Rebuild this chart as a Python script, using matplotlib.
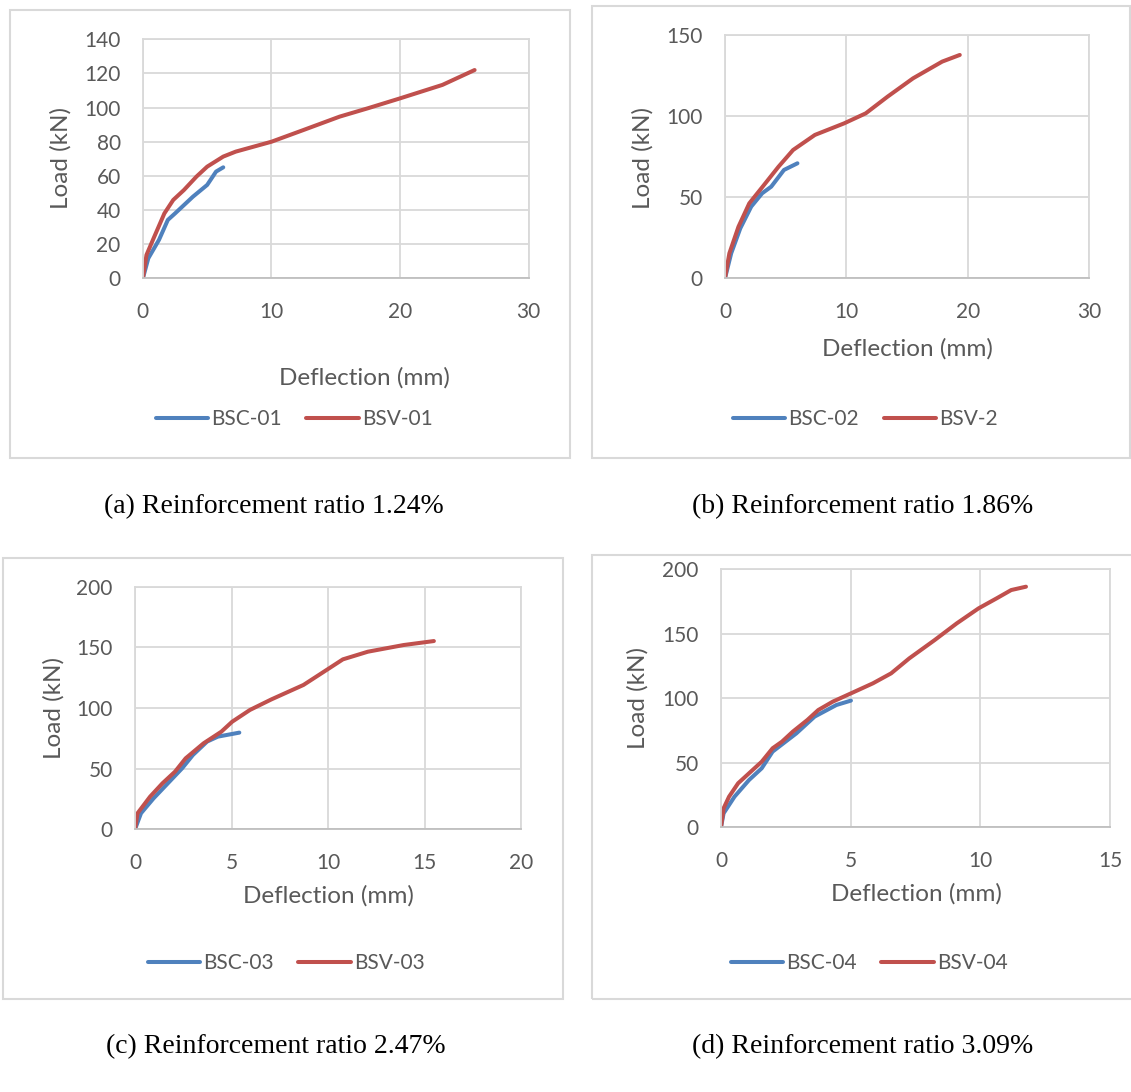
import numpy as np
import matplotlib
matplotlib.use("Agg")
from matplotlib import pyplot as plt
from matplotlib.patches import Rectangle

plt.rcParams['font.family'] = ['Lato', 'DejaVu Sans']

# ---- data (deflection mm, load kN) ----
bsc01_x = [0, 0.42, 1.25, 1.94, 2.5, 3.89, 5.0, 5.69, 6.25]
bsc01_y = [0, 11.7, 22.5, 34.2, 38.0, 47.8, 54.7, 62.5, 65.0]
bsv01_x = [0, 0.28, 0.83, 1.67, 2.36, 3.19, 4.17, 5.0, 6.25, 7.22, 10.0, 12.5, 15.3, 17.5, 20.0, 23.3, 25.8]
bsv01_y = [0, 13.7, 23.4, 38.0, 45.9, 51.7, 59.6, 65.4, 71.3, 74.2, 80.0, 86.9, 94.7, 99.6, 105.4, 113.3, 122.0]

bsc02_x = [0, 0.51, 1.26, 2.16, 3.06, 3.81, 4.86, 5.97]
bsc02_y = [0, 15.4, 30.8, 44.2, 52.4, 56.5, 66.8, 70.9]
bsv2_x = [0, 0.36, 1.11, 2.0, 3.21, 4.41, 5.61, 7.41, 9.81, 11.6, 13.4, 15.5, 17.9, 19.35]
bsv2_y = [0, 15.4, 31.8, 46.2, 57.5, 68.8, 79.1, 88.4, 95.5, 101.7, 112.0, 123.3, 133.6, 137.7]

bsc03_x = [0, 0.31, 0.96, 1.7, 2.44, 3.0, 3.73, 4.29, 5.4]
bsc03_y = [0, 13.2, 25.5, 37.9, 50.3, 61.3, 72.3, 76.4, 79.7]
bsv03_x = [0, 0.13, 0.78, 1.42, 2.07, 2.62, 3.55, 4.47, 5.03, 5.95, 7.06, 8.72, 9.65, 10.76, 12.05, 13.9, 15.47]
bsv03_y = [0, 13.2, 26.9, 37.9, 47.5, 58.5, 70.9, 80.5, 88.7, 98.4, 107.1, 119.0, 128.6, 140.1, 146.4, 151.9, 155.2]

bsc04_x = [0, 0.1, 0.52, 1.08, 1.57, 1.99, 2.91, 3.61, 4.45, 5.01]
bsc04_y = [0, 10.8, 23.7, 36.6, 45.7, 58.6, 72.8, 85.7, 94.7, 98.1]
bsv04_x = [0, 0.1, 0.31, 0.66, 1.08, 1.57, 1.99, 2.35, 2.77, 3.33, 3.75, 4.31, 5.01, 5.86,
           6.56, 7.26, 8.24, 9.09, 9.93, 10.63, 11.19, 11.76]
bsv04_y = [0, 14.7, 23.7, 34.1, 41.8, 50.8, 61.2, 66.3, 74.1, 83.1, 90.8, 97.3, 103.7, 111.5,
           119.2, 130.8, 145.0, 157.9, 169.5, 177.3, 183.7, 186.3]

names = [("BSC-01", "BSV-01"), ("BSC-02", "BSV-2"), ("BSC-03", "BSV-03"), ("BSC-04", "BSV-04")]
captions = ["(a) Reinforcement ratio 1.24%", "(b) Reinforcement ratio 1.86%",
            "(c) Reinforcement ratio 2.47%", "(d) Reinforcement ratio 3.09%"]
xticks = [[0, 10, 20, 30], [0, 10, 20, 30], [0, 5, 10, 15, 20], [0, 5, 10, 15]]
yticks = [[0, 20, 40, 60, 80, 100, 120, 140], [0, 50, 100, 150], [0, 50, 100, 150, 200], [0, 50, 100, 150, 200]]
series = [(bsc01_x, bsc01_y, bsv01_x, bsv01_y),
          (bsc02_x, bsc02_y, bsv2_x, bsv2_y),
          (bsc03_x, bsc03_y, bsv03_x, bsv03_y),
          (bsc04_x, bsc04_y, bsv04_x, bsv04_y)]

# ---- layout in pixels (figure is 1131 x 1092) ----
W, H = 1131, 1092
boxes = [(10, 10, 570, 458), (592, 6, 1130, 458), (3, 558, 563, 999), (592, 555, 1140, 999)]
plots = [(142.9, 39.3, 528.6, 278.3), (725, 35, 1089, 278.3), (135, 586.7, 521.4, 829.3), (721, 569, 1110, 827.3)]
xlab_pos = [(364, 378), (907, 349), (328, 896), (916, 894)]
ylab_pos = [(61, 158), (643, 158), (54, 708), (638, 698)]
leg_pos = [(294, 419), (865, 419), (286, 963), (869, 963)]
cap_pos = [(274, 507), (863, 507), (276, 1047), (863, 1047)]

blue = '#4F81BD'
red = '#C0504D'
grid = '#D9D9D9'
txt = '#595959'
fs = 15

fig = plt.figure(figsize=(W / 100, H / 100), dpi=100)

for i in range(4):
    bx0, by0, bx1, by1 = boxes[i]
    fig.patches.append(Rectangle((bx0 / W, 1 - by1 / H), (bx1 - bx0) / W, (by1 - by0) / H,
                                 transform=fig.transFigure, fill=False, edgecolor=grid, lw=1.5))

    x0, y0, x1, y1 = plots[i]
    ax = fig.add_axes([x0 / W, 1 - y1 / H, (x1 - x0) / W, (y1 - y0) / H])
    cx, cy, vx, vy = series[i]
    ax.plot(cx, cy, color=blue, lw=2.9, label=names[i][0], solid_capstyle='round')
    ax.plot(vx, vy, color=red, lw=2.9, label=names[i][1], solid_capstyle='round')

    ax.set_xlim(xticks[i][0], xticks[i][-1])
    ax.set_ylim(yticks[i][0], yticks[i][-1])
    ax.set_xticks(xticks[i])
    ax.set_yticks(yticks[i])
    ax.grid(True, color=grid, lw=1.3)
    ax.set_axisbelow(True)
    for s in ax.spines.values():
        s.set_color(grid)
        s.set_linewidth(1.3)
    ax.spines['bottom'].set_color('#BFBFBF')
    ax.tick_params(length=0, labelsize=fs, labelcolor=txt)
    ax.tick_params(axis='x', pad=17)
    ax.tick_params(axis='y', pad=16)

    ax.set_xlabel("Deflection (mm)", fontsize=17.5, color=txt)
    ax.xaxis.label.set_va('center')
    ax.xaxis.set_label_coords((xlab_pos[i][0] - x0) / (x1 - x0), (y1 - xlab_pos[i][1]) / (y1 - y0))
    ax.set_ylabel("Load (kN)", fontsize=17.5, color=txt)
    ax.yaxis.label.set_va('center')
    ax.yaxis.set_label_coords((ylab_pos[i][0] - x0) / (x1 - x0), (y1 - ylab_pos[i][1]) / (y1 - y0))

    leg = ax.legend(loc='center', bbox_to_anchor=(leg_pos[i][0] / W, 1 - leg_pos[i][1] / H),
                    bbox_transform=fig.transFigure, ncol=2, frameon=False, fontsize=fs,
                    handlelength=2.5, handletextpad=0.15, columnspacing=1.2)
    for t in leg.get_texts():
        t.set_color(txt)

    fig.text(cap_pos[i][0] / W, 1 - cap_pos[i][1] / H, captions[i], ha='center', va='center',
             fontsize=20, family=['Liberation Serif', 'DejaVu Serif'], color='black')

fig.savefig("out.png", dpi=100, facecolor='white')
